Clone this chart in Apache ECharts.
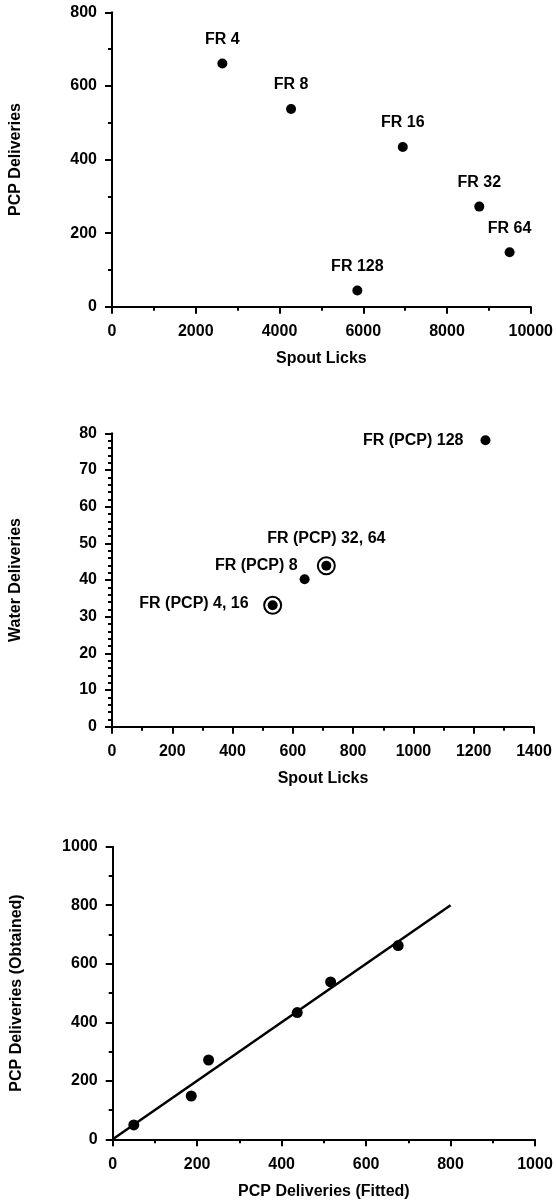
<!DOCTYPE html>
<html><head><meta charset="utf-8">
<script src="https://cdn.jsdelivr.net/npm/echarts@6/dist/echarts.min.js"></script>
<style>html,body{margin:0;padding:0;background:#fff}#c{width:556px;height:1203px}</style>
</head><body><div id="c"></div>
<script>
// ---------- Panel 1: PCP deliveries vs spout licks ----------
const p1Names = ['FR 4', 'FR 8', 'FR 16', 'FR 32', 'FR 64', 'FR 128'];
const p1SpoutLicks = [2635, 4276, 6944, 8771, 9495, 5859];
const p1PcpDeliveries = [661, 537, 434, 272, 148, 44];
const p1XTicks = [0, 2000, 4000, 6000, 8000, 10000];
const p1YTicks = [0, 200, 400, 600, 800];

// ---------- Panel 2: water deliveries vs spout licks ----------
const p2Names = ['FR (PCP) 4, 16', 'FR (PCP) 8', 'FR (PCP) 32, 64', 'FR (PCP) 128'];
const p2SpoutLicks = [533, 639, 711, 1239];
const p2WaterDeliveries = [33.1, 40.2, 43.9, 78.1];
const p2PointCount = [2, 1, 2, 1];
const p2XTicks = [0, 200, 400, 600, 800, 1000, 1200, 1400];
const p2YTicks = [0, 10, 20, 30, 40, 50, 60, 70, 80];

// ---------- Panel 3: obtained vs fitted PCP deliveries ----------
const p3Fitted = [50, 186, 227, 437, 516, 676];
const p3Obtained = [49, 148, 271, 433, 538, 662];
const p3LineX = [0, 800];
const p3LineY = [0, 800];
const p3XTicks = [0, 200, 400, 600, 800, 1000];
const p3YTicks = [0, 200, 400, 600, 800, 1000];

const FONT = '"Liberation Sans", Arial, Helvetica, sans-serif';
const INK = '#000';

function axis(ticks, minorSplit, name, isY) {
  return {
    type: 'value',
    min: ticks[0], max: ticks[ticks.length - 1], interval: ticks[1] - ticks[0],
    name: name, nameLocation: 'middle',
    nameGap: isY ? 88 : 44,
    nameRotate: isY ? 90 : 0,
    nameTextStyle: { color: INK, fontSize: 16, fontWeight: 'bold', fontFamily: FONT },
    axisLine: { show: true, onZero: false, lineStyle: { color: INK, width: 2 } },
    axisTick: { show: true, length: 7, lineStyle: { color: INK, width: 2 } },
    minorTick: { show: true, splitNumber: minorSplit, length: 4, lineStyle: { color: INK, width: 2 } },
    splitLine: { show: false },
    minorSplitLine: { show: false },
    axisLabel: { color: INK, fontSize: 16, fontWeight: 'bold', fontFamily: FONT, margin: isY ? 15 : 17,
      showMinLabel: true, showMaxLabel: true, hideOverlap: false,
      formatter: v => String(v) }
  };
}

const labelStyle = { color: INK, fontSize: 16, fontWeight: 'bold', fontFamily: FONT, opacity: 1 };

// label placements for panel 2 (style only)
const p2LabelLayout = [
  { position: 'left', distance: 19, offset: [0, -2] },
  { position: 'left', distance: 2, offset: [0, -14] },
  { position: 'top', distance: 14, offset: [0, 0] },
  { position: 'left', distance: 17, offset: [0, 0] }
];

const p1Data = p1Names.map((n, i) => ({ name: n, value: [p1SpoutLicks[i], p1PcpDeliveries[i]] }));
const p2Dots = p2Names.map((n, i) => ({
  name: n, value: [p2SpoutLicks[i], p2WaterDeliveries[i]],
  label: Object.assign({ show: true }, p2LabelLayout[i])
}));
const p2Rings = p2Names.map((n, i) => ({ name: n, value: [p2SpoutLicks[i], p2WaterDeliveries[i]] }))
  .filter((d, i) => p2PointCount[i] > 1);
const p3Data = p3Fitted.map((x, i) => [x, p3Obtained[i]]);
const p3Line = p3LineX.map((x, i) => [x, p3LineY[i]]);

const dotStyle = { color: INK, opacity: 1 };

const option = {
  animation: false,
  backgroundColor: '#fff',
  grid: [
    { left: 112, top: 12.3, width: 421, height: 294.4 },
    { left: 110, top: 433.3, width: 424, height: 293.4 },
    { left: 112.7, top: 846.7, width: 422.3, height: 292.6 }
  ],
  xAxis: [
    Object.assign(axis(p1XTicks, 2, 'Spout Licks', false), { gridIndex: 0 }),
    Object.assign(axis(p2XTicks, 2, 'Spout Licks', false), { gridIndex: 1 }),
    Object.assign(axis(p3XTicks, 2, 'PCP Deliveries (Fitted)', false), { gridIndex: 2 })
  ],
  yAxis: [
    Object.assign(axis(p1YTicks, 2, 'PCP Deliveries', true), { gridIndex: 0 }),
    Object.assign(axis(p2YTicks, 5, 'Water Deliveries', true), { gridIndex: 1 }),
    Object.assign(axis(p3YTicks, 2, 'PCP Deliveries (Obtained)', true), { gridIndex: 2 })
  ],
  series: [
    {
      type: 'scatter', xAxisIndex: 0, yAxisIndex: 0, data: p1Data,
      symbol: 'circle', symbolSize: 10, itemStyle: dotStyle,
      label: Object.assign({ show: true, position: 'top', distance: 11, formatter: '{b}' }, labelStyle)
    },
    {
      type: 'scatter', xAxisIndex: 1, yAxisIndex: 1, data: p2Rings, z: 2,
      symbol: 'circle', symbolSize: 17,
      itemStyle: { color: 'rgba(0,0,0,0)', borderColor: INK, borderWidth: 2, opacity: 1 }
    },
    {
      type: 'scatter', xAxisIndex: 1, yAxisIndex: 1, data: p2Dots, z: 3,
      symbol: 'circle', symbolSize: 10, itemStyle: dotStyle,
      label: Object.assign({ show: true, formatter: '{b}' }, labelStyle)
    },
    {
      type: 'line', xAxisIndex: 2, yAxisIndex: 2, data: p3Line,
      showSymbol: false, lineStyle: { color: INK, width: 2.5, opacity: 1 }
    },
    {
      type: 'scatter', xAxisIndex: 2, yAxisIndex: 2, data: p3Data, z: 3,
      symbol: 'circle', symbolSize: 11, itemStyle: dotStyle
    }
  ]
};

const chart = echarts.init(document.getElementById('c'), null, { renderer: 'canvas' });
chart.setOption(option);
</script>
</body></html>
